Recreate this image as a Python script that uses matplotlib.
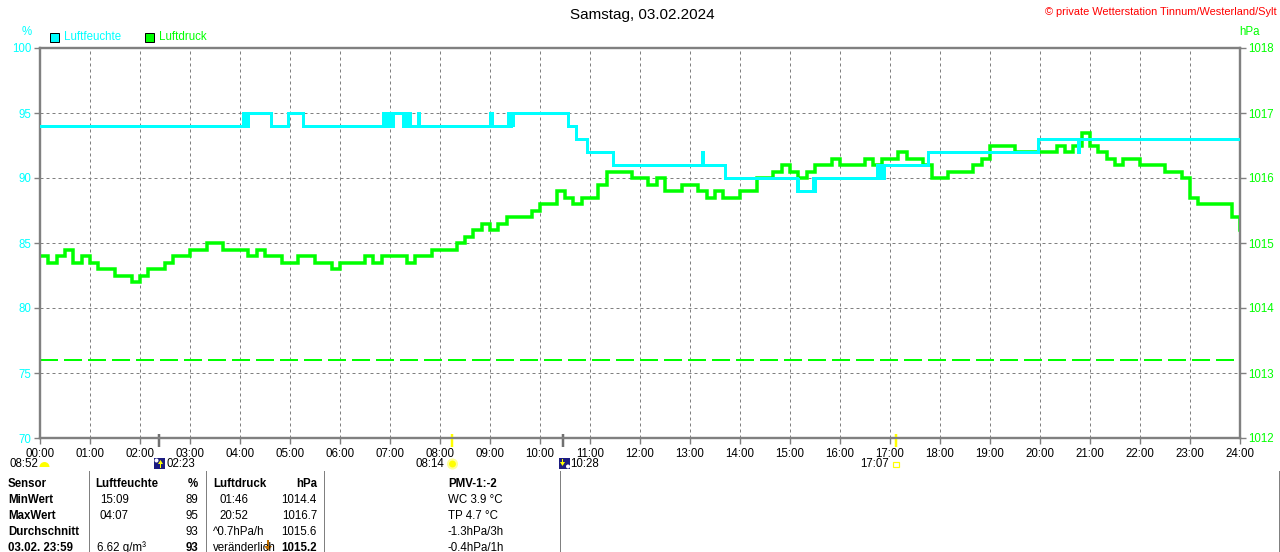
import numpy as np
import matplotlib
matplotlib.use("Agg")
import matplotlib.pyplot as plt
from matplotlib.patches import Rectangle, Wedge, Circle, Polygon
from matplotlib.transforms import blended_transform_factory, offset_copy

# ------------------------------------------------------------------ data
title = "Samstag, 03.02.2024"
copyright_text = "© private Wetterstation Tinnum/Westerland/Sylt"
hour_labels = [f"{h:02d}:00" for h in range(25)]
hum_ticks = [70, 75, 80, 85, 90, 95, 100]
press_ticks = [1012, 1013, 1014, 1015, 1016, 1017, 1018]

# humidity (%) change points, drawn as steps
hum_change_times = ["00:00", "04:04", "04:05", "04:06", "04:08", "04:09", "04:37",
                    "04:58", "05:16", "06:51", "06:53", "06:56", "06:58", "07:00",
                    "07:02", "07:04", "07:16", "07:18", "07:20", "07:22", "07:24",
                    "07:33", "07:35", "09:00", "09:02", "09:21", "09:23", "09:25",
                    "09:27", "09:28", "10:34", "10:43", "10:56", "11:28", "13:14",
                    "13:16", "13:42", "15:08", "15:09", "15:10", "15:28", "15:29",
                    "15:30", "16:44", "16:46", "16:48", "16:50", "16:53", "17:45",
                    "19:58", "20:45", "20:47", "23:59"]
hum_change_values = [94, 95, 94, 95, 94, 95, 94,
                     95, 94, 95, 94, 95, 94, 95,
                     94, 95, 94, 95, 94, 95, 94,
                     95, 94, 95, 94, 95, 94, 95,
                     94, 95, 94, 93, 92, 91, 92,
                     91, 90, 89, 90, 89, 90, 89,
                     90, 91, 90, 91, 90, 91, 92,
                     93, 92, 93, 93]

# air pressure (hPa), one value every 10 minutes from 00:00 to 24:00
press_values = [
    1014.8, 1014.7, 1014.8, 1014.9, 1014.7, 1014.8,
    1014.7, 1014.6, 1014.6, 1014.5, 1014.5, 1014.4,
    1014.5, 1014.6, 1014.6, 1014.7, 1014.8, 1014.8,
    1014.9, 1014.9, 1015.0, 1015.0, 1014.9, 1014.9,
    1014.9, 1014.8, 1014.9, 1014.8, 1014.8, 1014.7,
    1014.7, 1014.8, 1014.8, 1014.7, 1014.7, 1014.6,
    1014.7, 1014.7, 1014.7, 1014.8, 1014.7, 1014.8,
    1014.8, 1014.8, 1014.7, 1014.8, 1014.8, 1014.9,
    1014.9, 1014.9, 1015.0, 1015.1, 1015.2, 1015.3,
    1015.2, 1015.3, 1015.4, 1015.4, 1015.4, 1015.5,
    1015.6, 1015.6, 1015.8, 1015.7, 1015.6, 1015.7,
    1015.7, 1015.9, 1016.1, 1016.1, 1016.1, 1016.0,
    1016.0, 1015.9, 1016.0, 1015.8, 1015.8, 1015.9,
    1015.9, 1015.8, 1015.7, 1015.8, 1015.7, 1015.7,
    1015.8, 1015.8, 1016.0, 1016.0, 1016.1, 1016.2,
    1016.1, 1016.0, 1016.1, 1016.2, 1016.2, 1016.3,
    1016.2, 1016.2, 1016.2, 1016.3, 1016.2, 1016.3,
    1016.3, 1016.4, 1016.3, 1016.3, 1016.2, 1016.0,
    1016.0, 1016.1, 1016.1, 1016.1, 1016.2, 1016.3,
    1016.5, 1016.5, 1016.5, 1016.4, 1016.4, 1016.4,
    1016.4, 1016.4, 1016.5, 1016.4, 1016.5, 1016.7,
    1016.5, 1016.4, 1016.3, 1016.2, 1016.3, 1016.3,
    1016.2, 1016.2, 1016.2, 1016.1, 1016.1, 1016.0,
    1015.7, 1015.6, 1015.6, 1015.6, 1015.6, 1015.4,
    1015.2,
]
press_step_minutes = 10
ref_pressure = 1013.2   # dashed reference line

# astronomical events: (time, kind)
events = [("02:23", "moon"), ("08:14", "sun"), ("10:28", "moon"), ("17:07", "sun")]
moon_phase_time = "08:52"

# statistics table
table_col1 = ["Sensor", "MinWert", "MaxWert", "Durchschnitt", "03.02. 23:59"]
hum_header = ("Luftfeuchte", "%")
hum_times_tbl = ["15:09", "04:07", "", "6.62 g/m³"]
hum_vals_tbl = ["89", "95", "93", "93"]
press_header = ("Luftdruck", "hPa")
press_times_tbl = ["01:46", "20:52", "^0.7hPa/h", "veränderlich"]
press_vals_tbl = ["1014.4", "1016.7", "1015.6", "1015.2"]
extra_col = ["PMV-1:-2", "WC 3.9 °C", "TP 4.7 °C", "-1.3hPa/3h", "-0.4hPa/1h"]

# ------------------------------------------------------------------ style
CYAN = "#00FFFF"
GREEN = "#00FF00"
GRAY = "#808080"
YELLOW = "#FFFF00"
NAVY = "#1C1C80"
FONT = ["Liberation Sans", "DejaVu Sans"]
plt.rcParams["font.family"] = FONT
PX = 0.72  # points per pixel at 100 dpi
FS = 8.3


def hm(s):
    h, m = s.split(":")
    return int(h) + int(m) / 60.0


W, H = 1280, 552
fig = plt.figure(figsize=(W / 100, H / 100), dpi=100)
fig.patch.set_facecolor("white")

# main axes: pressure (right), grid; twin: humidity (left) on top
ax = fig.add_axes([40 / W, (H - 438) / H, 1200 / W, 390 / H])
ax_h = ax.twinx()

ax.yaxis.tick_right()
ax_h.yaxis.tick_left()

ax.set_xlim(0, 24)
ax.set_ylim(1012, 1018)
ax_h.set_ylim(70, 100)

ax.set_xticks(range(25))
ax.set_xticklabels(hour_labels)
ax.set_yticks(press_ticks)
ax.set_yticklabels([str(v) for v in press_ticks])
ax_h.set_yticks(hum_ticks)
ax_h.set_yticklabels([str(v) for v in hum_ticks])

ax.grid(True, color=GRAY, linestyle=(0, (3, 3)), linewidth=1 * PX)
ax.set_axisbelow(True)

for a in (ax, ax_h):
    for sp in a.spines.values():
        sp.set_color(GRAY)
        sp.set_linewidth(2.2 * PX)

ax.tick_params(axis="x", length=4, width=1, color=GRAY, labelcolor="black",
               labelsize=FS, pad=3)
ax.tick_params(axis="y", length=4, width=1, color=GRAY, labelcolor=GREEN,
               labelsize=FS, pad=2)
ax_h.tick_params(axis="y", length=4, width=1, color=GRAY, labelcolor=CYAN,
                 labelsize=FS, pad=2)

# pressure line
press_times = np.arange(len(press_values)) * press_step_minutes / 60.0
ax.plot(press_times, press_values, color=GREEN, lw=3.5 * PX,
        drawstyle="steps-post", solid_joinstyle="miter", zorder=3)
ax.axhline(ref_pressure, color=GREEN, lw=2 * PX, dashes=(9, 3), zorder=2)

# humidity line
ht = [hm(t) for t in hum_change_times]
ax_h.plot(ht, hum_change_values, color=CYAN, lw=3 * PX,
          drawstyle="steps-post", solid_joinstyle="miter", zorder=4)

# event markers below the axis
xtrans = ax.get_xaxis_transform()
for t, kind in events:
    col = YELLOW if kind == "sun" else "#707070"
    ax.plot([hm(t), hm(t)], [4 / 390, -9 / 390], transform=xtrans,
            color=col, lw=2.5 * PX, clip_on=False, zorder=5,
            solid_capstyle="butt")

btrans = blended_transform_factory(ax.transData, fig.transFigure)
ylab = 1 - 464 / H
for t, kind in events:
    if kind == "moon":
        tr = offset_copy(btrans, fig=fig, x=7 * PX, y=0, units="points")
        ax.text(hm(t), ylab, t, transform=tr, ha="left", va="center",
                fontsize=FS, clip_on=False)
    else:
        tr = offset_copy(btrans, fig=fig, x=-7 * PX, y=0, units="points")
        ax.text(hm(t), ylab, t, transform=tr, ha="right", va="center",
                fontsize=FS, clip_on=False)

# ------------------------------------------------------------------ overlay
ov = fig.add_axes([0, 0, 1, 1])
ov.set_xlim(0, W)
ov.set_ylim(H, 0)
ov.axis("off")
ov.patch.set_visible(False)

ov.text(642, 15, title, ha="center", va="center", fontsize=11, color="#000000")
ov.text(1277, 12, copyright_text, ha="right", va="center", fontsize=7.9,
        color="#FF0000")
ov.text(27, 32, "%", ha="center", va="center", fontsize=FS, color=CYAN)
ov.text(1249, 32, "hPa", ha="center", va="center", fontsize=FS, color=GREEN)

# legend
ov.add_patch(Rectangle((50, 33), 9, 9, facecolor=CYAN, edgecolor="black", lw=1 * PX))
ov.text(64, 37.5, "Luftfeuchte", ha="left", va="center", fontsize=FS, color=CYAN)
ov.add_patch(Rectangle((145, 33), 9, 9, facecolor=GREEN, edgecolor="black", lw=1 * PX))
ov.text(159, 37.5, "Luftdruck", ha="left", va="center", fontsize=FS, color=GREEN)

# moon phase label at left
ov.text(10, 464, moon_phase_time, ha="left", va="center", fontsize=FS)
ov.add_patch(Wedge((44.5, 467), 5, 180, 360, facecolor=YELLOW, edgecolor="none"))


# icons
def moon_icon(x0, up):
    ov.add_patch(Rectangle((x0, 458), 11, 11, facecolor=NAVY, edgecolor="none"))
    if up:
        ov.add_patch(Circle((x0 + 2.5, 460.5), 2, facecolor="white", edgecolor="none"))
        ov.add_patch(Polygon([[x0 + 6.5, 460], [x0 + 4, 464], [x0 + 9, 464]],
                             facecolor=YELLOW, edgecolor="none"))
        ov.add_patch(Rectangle((x0 + 6, 464), 1.2, 4, facecolor=YELLOW, edgecolor="none"))
    else:
        ov.add_patch(Circle((x0 + 9, 466.5), 2, facecolor="white", edgecolor="none"))
        ov.add_patch(Polygon([[x0 + 3.5, 466], [x0 + 1, 462], [x0 + 6, 462]],
                             facecolor=YELLOW, edgecolor="none"))
        ov.add_patch(Rectangle((x0 + 3, 458.5), 1.2, 4, facecolor=YELLOW, edgecolor="none"))


moon_icon(154, True)
moon_icon(559, False)
# sun icons
ov.add_patch(Circle((452.5, 464), 4.5, facecolor=YELLOW, edgecolor="#FFFF99", lw=1.5))
ov.add_patch(Rectangle((893, 461.5), 5.5, 5, facecolor="none", edgecolor=YELLOW, lw=1.2 * PX))

# table separators
for xs in (89, 206, 324, 560, 1279):
    ov.plot([xs, xs], [471, 552], color=GRAY, lw=1 * PX)

rows_y = [484, 500, 516, 532, 548]
for i, s in enumerate(table_col1):
    ov.text(8, rows_y[i], s, ha="left", va="center", fontsize=FS, fontweight="bold")

ov.text(95, rows_y[0], hum_header[0], ha="left", va="center", fontsize=FS, fontweight="bold")
ov.text(198, rows_y[0], hum_header[1], ha="right", va="center", fontsize=FS, fontweight="bold")
ov.text(213, rows_y[0], press_header[0], ha="left", va="center", fontsize=FS, fontweight="bold")
ov.text(317, rows_y[0], press_header[1], ha="right", va="center", fontsize=FS, fontweight="bold")

for i in range(4):
    y = rows_y[i + 1]
    last = (i == 3)
    tx = 97 if last else 100
    ov.text(tx, y, hum_times_tbl[i], ha="left", va="center", fontsize=FS)
    ov.text(198, y, hum_vals_tbl[i], ha="right", va="center", fontsize=FS,
            fontweight="bold" if last else "normal")
    px_ = 213 if i >= 2 else 219
    ov.text(px_, y, press_times_tbl[i], ha="left", va="center", fontsize=FS)
    ov.text(317, y, press_vals_tbl[i], ha="right", va="center", fontsize=FS,
            fontweight="bold" if last else "normal")

# falling-pressure arrow
ov.add_patch(Rectangle((262, 540), 10, 12, facecolor="white", edgecolor="none"))
ov.add_patch(Polygon([[268, 551], [264, 546], [272, 546]], facecolor="#C07000", edgecolor="none"))
ov.add_patch(Rectangle((267, 540), 2, 6, facecolor="#C07000", edgecolor="none"))

for i, s in enumerate(extra_col):
    ov.text(448, rows_y[i], s, ha="left", va="center", fontsize=FS,
            fontweight="bold" if i == 0 else "normal")

fig.savefig("out.png", dpi=100, facecolor="white")
